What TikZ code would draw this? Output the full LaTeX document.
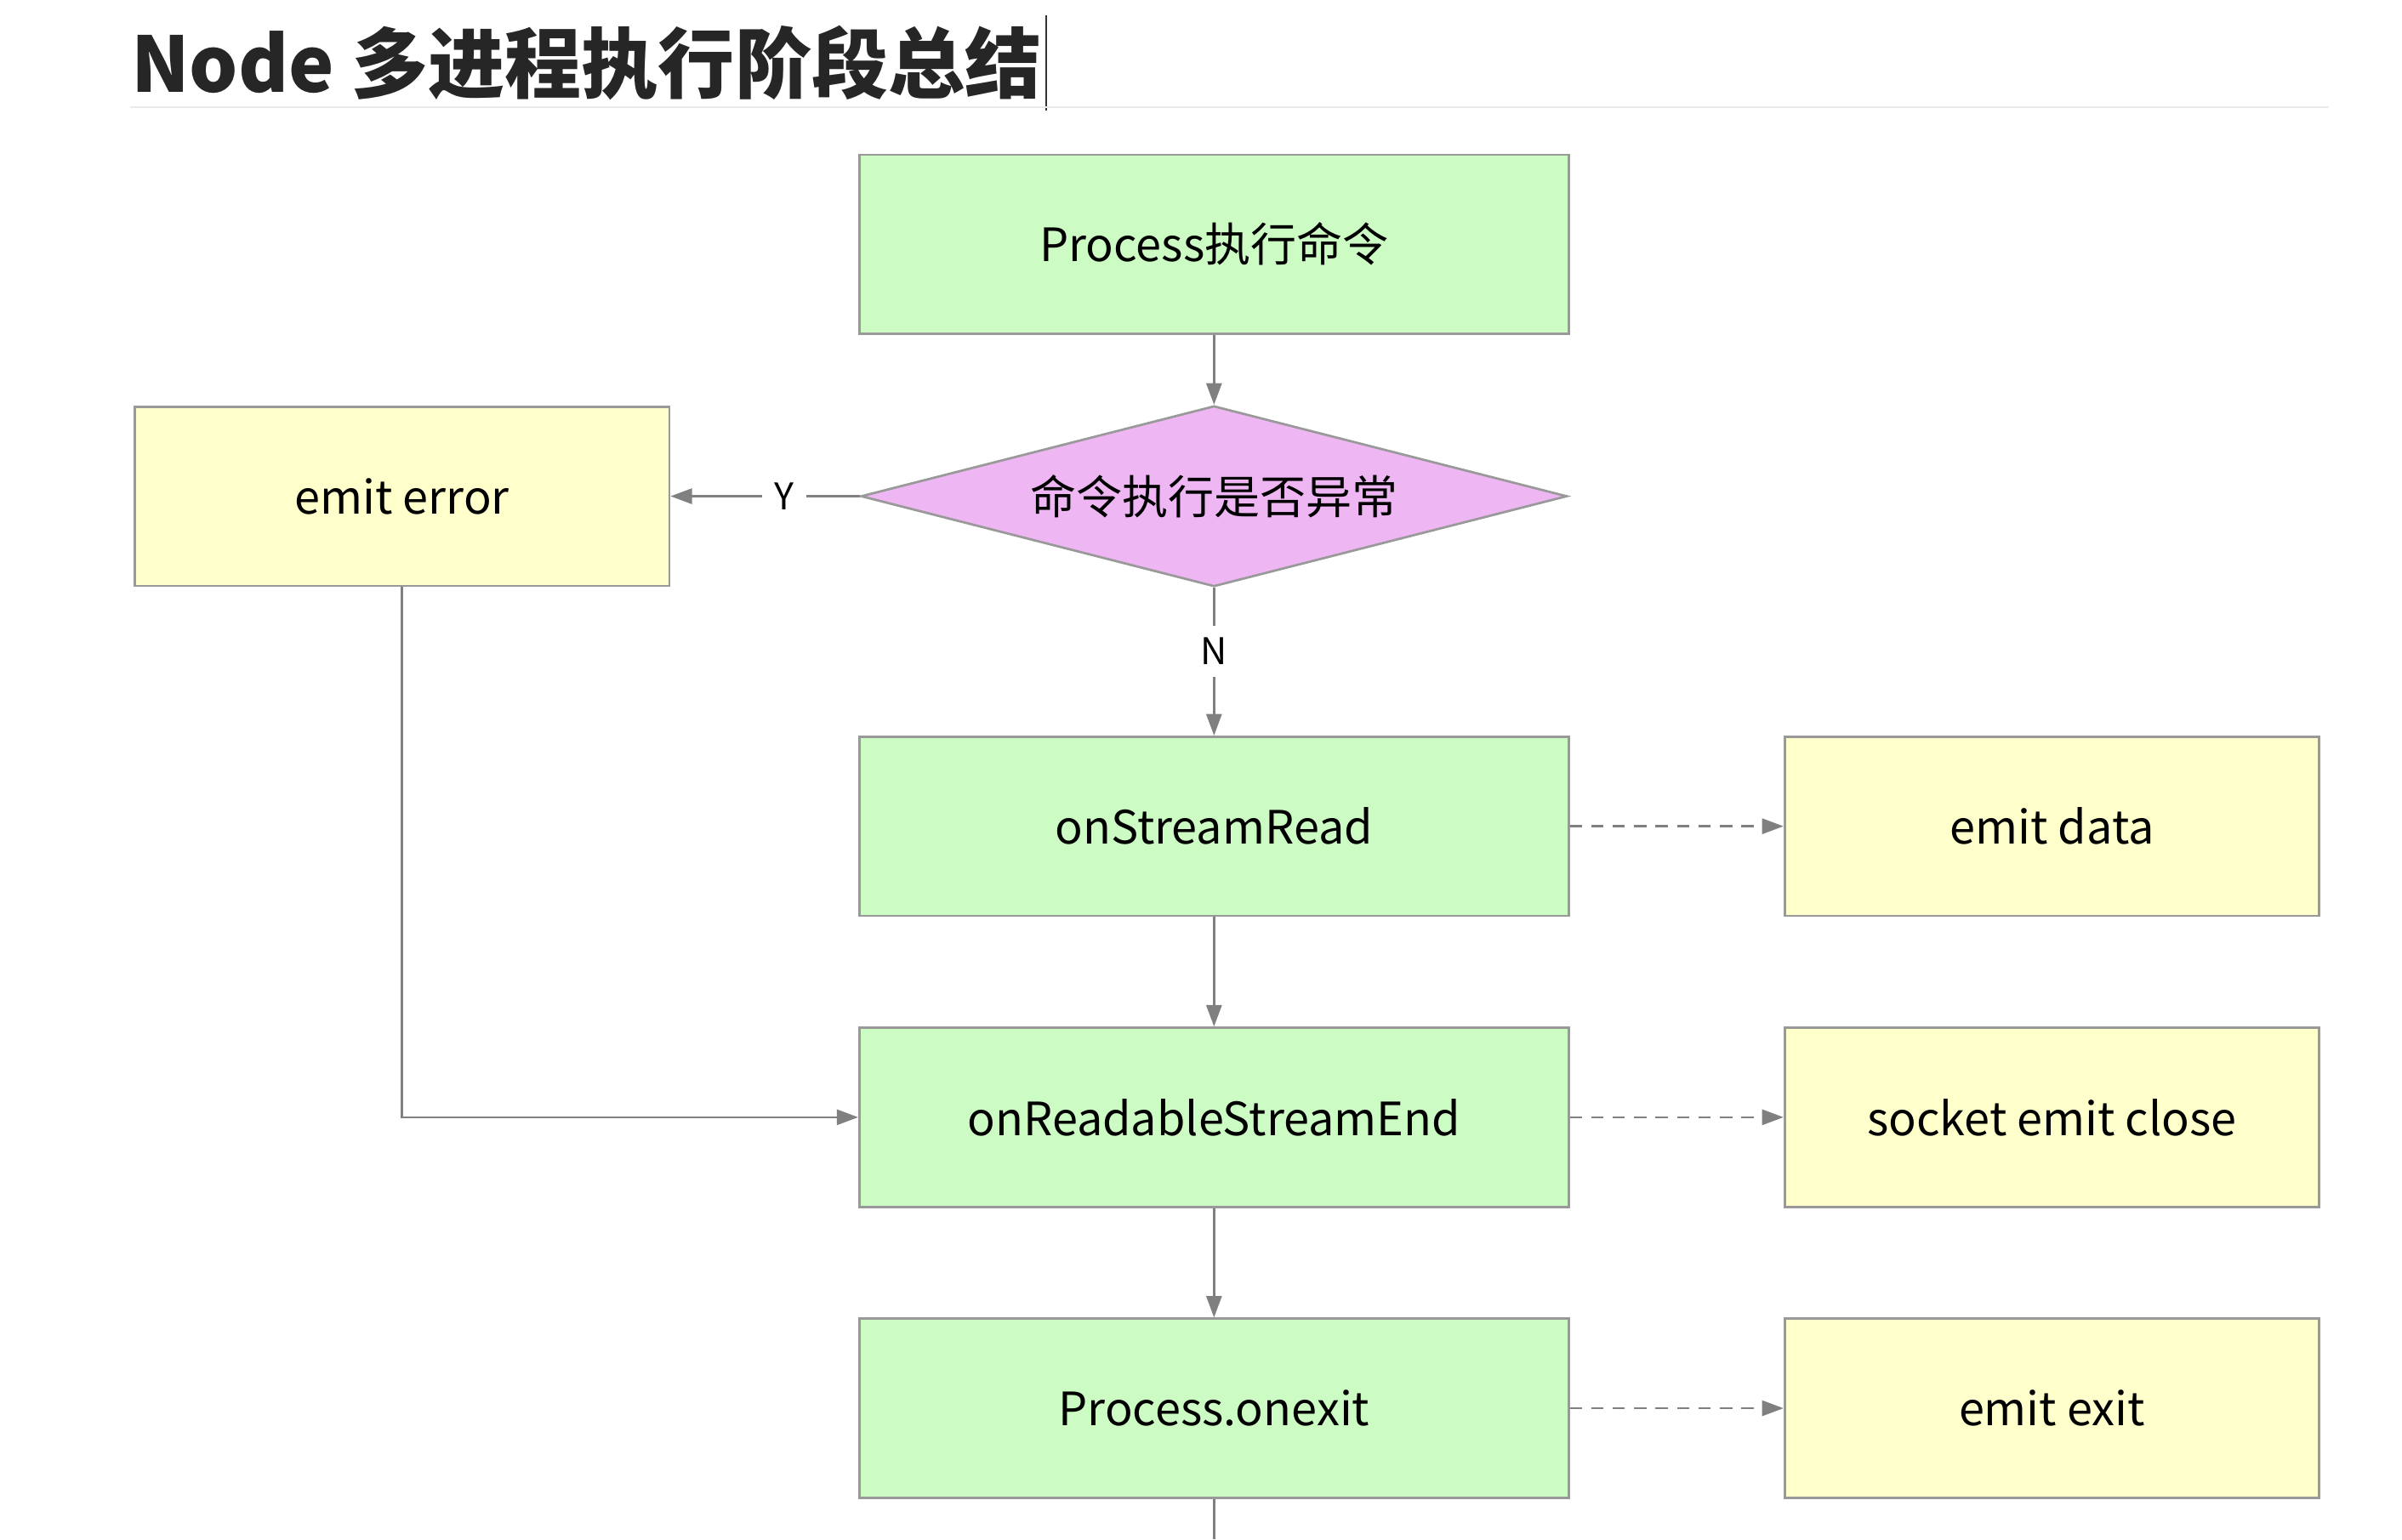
\documentclass[tikz,border=0pt]{standalone}
\usepackage{fontspec}
\setmainfont{Noto Sans CJK SC}
\usetikzlibrary{shapes.geometric,arrows.meta}
\definecolor{gfill}{HTML}{CCFCC4}
\definecolor{yfill}{HTML}{FFFFCC}
\definecolor{dfill}{HTML}{EEB6F2}
\definecolor{bord}{HTML}{999999}
\definecolor{arr}{HTML}{808080}
\begin{document}
\begin{tikzpicture}[x=1pt,y=-1pt,
  box/.style={draw=bord,line width=1.5pt,minimum width=463pt,minimum height=117pt,font=\fontsize{30}{34}\selectfont,inner sep=0pt},
  gbox/.style={box,fill=gfill},
  ybox/.style={box,fill=yfill,minimum width=349pt},
  dia/.style={diamond,aspect=3.9,draw=bord,line width=1.5pt,fill=dfill,minimum width=461pt,minimum height=118pt,inner sep=0pt,font=\fontsize{30}{34}\selectfont},
  ar/.style={draw=arr,line width=1.5pt,-{Triangle[length=14pt,width=10pt]}},
  dar/.style={ar,dashed,dash pattern=on 8pt off 6pt},
  lab/.style={font=\fontsize{24}{28}\selectfont,fill=white,inner sep=8pt}]
\useasboundingbox[fill=white] (0,0) rectangle (1568,1005);
\node[anchor=base west,font=\fontsize{50}{54}\selectfont\bfseries,text=black!85] (title) at (82,60) {Node 多进程执行阶段总结};
\draw[black!80,line width=1.2pt] (683,10) -- (683,72);
\draw[black!8,line width=1pt] (85,70) -- (1520,70);
\node[gbox] (p) at (792.5,159.5) {Process执行命令};
\node[dia] (d) at (792.5,324) {命令执行是否异常};
\node[ybox] (e) at (262.5,324) {emit error};
\node[gbox] (r) at (792.5,539.5) {onStreamRead};
\node[gbox] (s) at (792.5,729.5) {onReadableStreamEnd};
\node[gbox] (x) at (792.5,919.5) {Process.onexit};
\node[ybox] (ed) at (1339.5,539.5) {emit data};
\node[ybox] (ec) at (1339.5,729.5) {socket emit close};
\node[ybox] (ex) at (1339.5,919.5) {emit exit};
\coordinate (down) at (792.5,1005);
\draw[ar] (p) -- (d);
\draw[ar] (d) -- node[lab,pos=0.4]{Y} (e);
\draw[ar] (d) -- node[lab,pos=0.43]{N} (r);
\draw[ar] (r) -- (s);
\draw[ar] (s) -- (x);
\draw[ar] (e) |- (s);
\draw[draw=arr,line width=1.5pt] (x) -- (down);
\draw[dar] (r) -- (ed);
\draw[dar] (s) -- (ec);
\draw[dar] (x) -- (ex);
\end{tikzpicture}
\end{document}
